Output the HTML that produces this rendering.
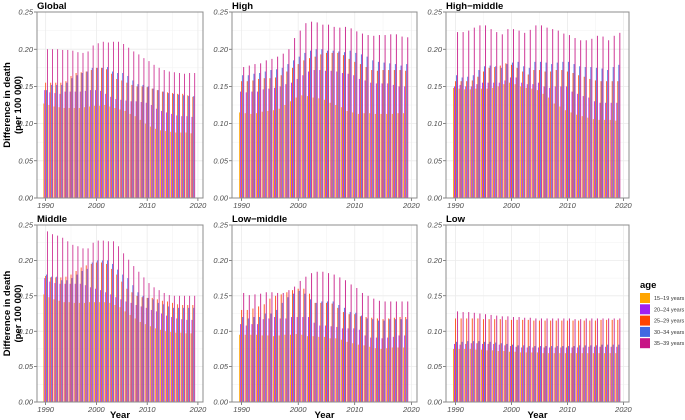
<!DOCTYPE html>
<html><head><meta charset="utf-8"><style>
body{margin:0;background:#fff;}
svg{display:block;font-family:"Liberation Sans",sans-serif;}
</style></head><body>
<svg id="chart" width="685" height="420" viewBox="0 0 685 420"></svg>
<script>
const years = Array.from({length:30},(_,i)=>1990+i);
const ageGroups = ["15\u201319 years","20\u201324 years","25\u201329 years","30\u201334 years","35\u201339 years"];
const ageColors = ["#FFA500","#A020F0","#FF4500","#4169E1","#C71585"];
const yTicks = [0,0.05,0.10,0.15,0.20,0.25];
const yTickLabels = ["0.00","0.05","0.10","0.15","0.20","0.25"];
const xTicks = [1990,2000,2010,2020];
const panelNames = ["Global","High","High\u2212middle","Middle","Low\u2212middle","Low"];

const globalVals = [
[0.127,0.125,0.123,0.122,0.121,0.121,0.121,0.121,0.122,0.123,0.124,0.124,0.125,0.123,0.121,0.119,0.117,0.113,0.110,0.105,0.100,0.096,0.093,0.091,0.090,0.089,0.088,0.088,0.088,0.087],
[0.145,0.142,0.141,0.140,0.143,0.143,0.143,0.143,0.144,0.145,0.145,0.144,0.140,0.136,0.133,0.132,0.131,0.130,0.130,0.129,0.128,0.125,0.120,0.117,0.115,0.113,0.111,0.110,0.110,0.109],
[0.155,0.155,0.155,0.155,0.157,0.164,0.168,0.169,0.170,0.172,0.175,0.175,0.173,0.167,0.160,0.158,0.155,0.152,0.150,0.150,0.149,0.147,0.145,0.143,0.142,0.141,0.140,0.140,0.138,0.136],
[0.145,0.152,0.152,0.152,0.155,0.161,0.165,0.168,0.170,0.175,0.175,0.175,0.176,0.170,0.168,0.168,0.164,0.158,0.153,0.152,0.150,0.147,0.145,0.143,0.141,0.140,0.139,0.138,0.137,0.137],
[0.200,0.200,0.200,0.199,0.199,0.198,0.196,0.195,0.197,0.205,0.208,0.210,0.209,0.210,0.210,0.207,0.202,0.197,0.193,0.188,0.184,0.179,0.175,0.172,0.170,0.169,0.168,0.167,0.168,0.168]];
const highVals = [
[0.115,0.114,0.113,0.114,0.116,0.117,0.118,0.120,0.125,0.130,0.135,0.138,0.137,0.135,0.134,0.132,0.128,0.125,0.122,0.117,0.115,0.113,0.114,0.114,0.113,0.113,0.113,0.113,0.114,0.114],
[0.143,0.142,0.143,0.143,0.146,0.147,0.148,0.150,0.153,0.155,0.160,0.165,0.170,0.172,0.172,0.171,0.171,0.170,0.168,0.167,0.165,0.160,0.158,0.155,0.154,0.154,0.154,0.152,0.150,0.150],
[0.157,0.157,0.158,0.160,0.161,0.161,0.162,0.165,0.170,0.175,0.180,0.185,0.188,0.190,0.193,0.195,0.195,0.195,0.192,0.187,0.183,0.180,0.176,0.172,0.171,0.172,0.172,0.172,0.172,0.171],
[0.165,0.165,0.167,0.168,0.170,0.172,0.173,0.175,0.180,0.185,0.190,0.195,0.198,0.200,0.200,0.198,0.198,0.197,0.196,0.198,0.195,0.193,0.190,0.185,0.183,0.182,0.181,0.180,0.178,0.180],
[0.176,0.178,0.180,0.181,0.185,0.187,0.190,0.194,0.200,0.215,0.225,0.235,0.237,0.236,0.233,0.233,0.230,0.229,0.230,0.228,0.224,0.221,0.219,0.218,0.219,0.219,0.220,0.220,0.217,0.216]];
const highMiddleVals = [
[0.148,0.147,0.146,0.146,0.147,0.147,0.147,0.148,0.150,0.153,0.155,0.153,0.150,0.148,0.147,0.145,0.140,0.135,0.127,0.123,0.118,0.115,0.112,0.110,0.108,0.106,0.105,0.105,0.105,0.104],
[0.150,0.152,0.150,0.150,0.153,0.155,0.155,0.155,0.155,0.158,0.162,0.162,0.155,0.153,0.153,0.155,0.150,0.148,0.150,0.150,0.150,0.143,0.140,0.137,0.135,0.130,0.128,0.128,0.128,0.128],
[0.157,0.157,0.157,0.158,0.163,0.170,0.175,0.176,0.178,0.181,0.179,0.175,0.170,0.166,0.172,0.172,0.170,0.170,0.172,0.172,0.170,0.168,0.165,0.163,0.160,0.158,0.157,0.157,0.157,0.157],
[0.165,0.162,0.163,0.165,0.172,0.177,0.178,0.177,0.175,0.180,0.182,0.183,0.177,0.175,0.183,0.183,0.182,0.180,0.182,0.183,0.183,0.180,0.177,0.176,0.176,0.175,0.174,0.172,0.176,0.179],
[0.223,0.223,0.225,0.229,0.232,0.232,0.227,0.223,0.220,0.227,0.227,0.225,0.222,0.226,0.232,0.232,0.229,0.227,0.225,0.221,0.219,0.215,0.212,0.212,0.214,0.218,0.217,0.212,0.218,0.222]];
const middleVals = [
[0.152,0.148,0.145,0.143,0.141,0.141,0.140,0.140,0.140,0.141,0.141,0.141,0.141,0.140,0.137,0.134,0.128,0.123,0.118,0.113,0.110,0.107,0.104,0.102,0.100,0.099,0.098,0.098,0.097,0.097],
[0.175,0.170,0.168,0.167,0.167,0.167,0.167,0.167,0.165,0.162,0.160,0.158,0.155,0.152,0.148,0.145,0.142,0.140,0.137,0.135,0.133,0.130,0.128,0.125,0.122,0.120,0.118,0.117,0.116,0.116],
[0.178,0.176,0.176,0.176,0.177,0.180,0.185,0.190,0.193,0.195,0.197,0.197,0.195,0.188,0.180,0.170,0.160,0.155,0.150,0.148,0.147,0.147,0.145,0.143,0.142,0.140,0.138,0.137,0.137,0.137],
[0.180,0.177,0.177,0.172,0.172,0.175,0.180,0.185,0.188,0.197,0.200,0.200,0.200,0.195,0.187,0.180,0.175,0.165,0.155,0.150,0.147,0.145,0.140,0.138,0.135,0.133,0.133,0.133,0.133,0.133],
[0.241,0.237,0.235,0.232,0.227,0.222,0.220,0.217,0.217,0.225,0.228,0.228,0.227,0.227,0.220,0.210,0.201,0.192,0.184,0.176,0.168,0.162,0.158,0.154,0.151,0.150,0.150,0.150,0.150,0.150]];
const lowMiddleVals = [
[0.095,0.095,0.095,0.095,0.094,0.094,0.093,0.094,0.095,0.095,0.096,0.095,0.093,0.093,0.092,0.092,0.090,0.090,0.088,0.085,0.083,0.081,0.080,0.078,0.076,0.075,0.076,0.077,0.077,0.077],
[0.110,0.108,0.110,0.110,0.117,0.118,0.120,0.118,0.118,0.120,0.120,0.120,0.120,0.112,0.108,0.108,0.107,0.106,0.104,0.104,0.104,0.102,0.094,0.091,0.091,0.090,0.091,0.092,0.094,0.094],
[0.130,0.130,0.132,0.135,0.138,0.146,0.150,0.152,0.155,0.158,0.160,0.160,0.153,0.140,0.140,0.140,0.139,0.133,0.127,0.124,0.124,0.121,0.120,0.119,0.118,0.117,0.118,0.119,0.120,0.120],
[0.120,0.118,0.120,0.120,0.125,0.125,0.130,0.140,0.148,0.153,0.157,0.153,0.145,0.140,0.142,0.142,0.142,0.137,0.133,0.127,0.126,0.122,0.118,0.117,0.115,0.115,0.117,0.117,0.117,0.117],
[0.154,0.151,0.152,0.153,0.155,0.155,0.154,0.154,0.158,0.163,0.171,0.177,0.182,0.184,0.184,0.182,0.180,0.176,0.172,0.166,0.161,0.154,0.150,0.146,0.143,0.142,0.142,0.142,0.142,0.142]];
const lowVals = [
[0.075,0.075,0.075,0.075,0.074,0.074,0.073,0.073,0.072,0.072,0.071,0.071,0.070,0.070,0.070,0.070,0.069,0.069,0.069,0.069,0.069,0.069,0.069,0.069,0.069,0.069,0.069,0.069,0.069,0.069],
[0.082,0.081,0.082,0.083,0.083,0.082,0.082,0.082,0.081,0.080,0.079,0.078,0.077,0.077,0.077,0.077,0.077,0.077,0.077,0.077,0.077,0.077,0.077,0.077,0.078,0.078,0.078,0.078,0.078,0.078],
[0.118,0.118,0.118,0.118,0.118,0.117,0.117,0.117,0.117,0.116,0.116,0.116,0.116,0.116,0.115,0.115,0.115,0.115,0.115,0.115,0.115,0.115,0.115,0.115,0.115,0.115,0.116,0.116,0.116,0.116],
[0.085,0.085,0.086,0.086,0.086,0.085,0.085,0.084,0.083,0.082,0.081,0.080,0.080,0.079,0.079,0.079,0.079,0.079,0.079,0.079,0.079,0.079,0.080,0.080,0.080,0.080,0.081,0.081,0.081,0.081],
[0.128,0.127,0.127,0.126,0.125,0.124,0.123,0.122,0.121,0.121,0.120,0.120,0.119,0.119,0.118,0.118,0.118,0.118,0.118,0.118,0.118,0.117,0.117,0.118,0.118,0.118,0.118,0.118,0.118,0.118]];
const panelData = [globalVals,highVals,highMiddleVals,middleVals,lowMiddleVals,lowVals];

const NS="http://www.w3.org/2000/svg";
const svg=document.getElementById('chart');
function mk(tag,attrs,parent,text){const e=document.createElementNS(NS,tag);for(const k in attrs)e.setAttribute(k,attrs[k]);if(text!==undefined)e.textContent=text;(parent||svg).appendChild(e);return e;}

const boxes=[[37,203,12,198],[232,417,12,198],[446,629,12,198],[37,203,225,402],[232,417,225,402],[446,629,225,402]];
const X0=1988.3,X1=2021.0,YMAX=0.25;

panelData.forEach((vals,p)=>{
  const [l,r,t,b]=boxes[p];
  const g=mk('g',{});
  
  
  const xs=v=>l+(v-X0)/(X1-X0)*(r-l);
  const ys=v=>b-v/YMAX*(b-t);
  mk('rect',{x:l,y:t,width:r-l,height:b-t,fill:'#fff'},g);
  // minor grid
  for(let v=0.025;v<0.25;v+=0.05) mk('line',{x1:l,x2:r,y1:ys(v),y2:ys(v),stroke:'#f2f2f2','stroke-width':0.5},g);
  for(let v=1995;v<2020;v+=10) mk('line',{x1:xs(v),x2:xs(v),y1:t,y2:b,stroke:'#f2f2f2','stroke-width':0.5},g);
  yTicks.forEach((v,i)=>{
    mk('line',{x1:l,x2:r,y1:ys(v),y2:ys(v),stroke:'#ebebeb','stroke-width':0.8},g);
    mk('line',{x1:l-3,x2:l,y1:ys(v),y2:ys(v),stroke:'#333','stroke-width':0.6},g);
    const tl=mk('text',{x:l-4,y:ys(v)+2.6,'text-anchor':'end','font-size':7.5,'font-style':'italic',fill:'#4d4d4d'},g,yTickLabels[i]);
    
    
  });
  xTicks.forEach(v=>{
    mk('line',{x1:xs(v),x2:xs(v),y1:t,y2:b,stroke:'#ebebeb','stroke-width':0.8},g);
    mk('line',{x1:xs(v),x2:xs(v),y1:b,y2:b+3,stroke:'#333','stroke-width':0.6},g);
    const tl=mk('text',{x:xs(v),y:b+10,'text-anchor':'middle','font-size':7.5,'font-style':'italic',fill:'#4d4d4d'},g,String(v));
    
    
  });
  const unit=(r-l)/(X1-X0);
  const bw=0.9/5;
  vals.forEach((series,s)=>{
    series.forEach((v,i)=>{
      const cx=years[i]-0.45+bw*s;
      const bar=mk('rect',{x:l+(cx-X0)*unit,y:ys(v),width:Math.max(bw*unit,0.9),height:b-ys(v),fill:ageColors[s],'fill-opacity':0.85},g);
      
      
    });
  });
  mk('rect',{x:l,y:t,width:r-l,height:b-t,fill:'none',stroke:'#8c8c8c','stroke-width':1},g);
  const tt=mk('text',{x:l,y:t-3,'font-size':9.5,'font-weight':'bold',fill:'#000'},g,panelNames[p]);
  
  
  if(p>=3){
    const yt=mk('text',{x:(l+r)/2,y:418,'text-anchor':'middle','font-size':9.5,'font-weight':'bold'},g,'Year');
    
    
  }
  if(p===0||p===3){
    const cy=(t+b)/2;
    const a=mk('text',{x:0,y:0,'text-anchor':'middle','font-size':9.5,'font-weight':'bold',transform:`translate(10,${cy}) rotate(-90)`},g,'Difference in death');
    
    
    const a2=mk('text',{x:0,y:0,'text-anchor':'middle','font-size':9.5,'font-weight':'bold',transform:`translate(21,${cy}) rotate(-90)`},g,'(per 100 000)');
    
    
  }
});

// legend
const lg=mk('g',{});


mk('text',{x:640,y:288,'font-size':9.5,'font-weight':'bold'},lg,'age');
ageGroups.forEach((a,i)=>{
  const y=293+i*11.3;
  const k=mk('rect',{x:640,y:y,width:10,height:10,fill:ageColors[i]},lg);
  
  
  const t=mk('text',{x:654,y:y+7,'font-size':5.5,fill:'#333'},lg,a);
  
  
});
</script>
</body></html>
